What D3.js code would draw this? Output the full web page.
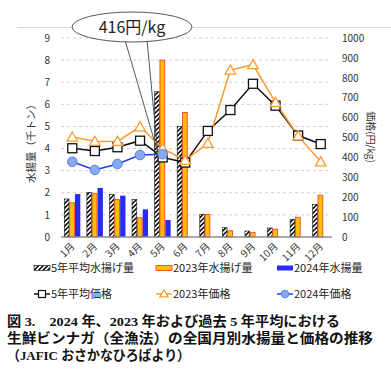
<!DOCTYPE html>
<html><head><meta charset="utf-8">
<script src="https://cdn.jsdelivr.net/npm/d3@7"></script>
<style>
body{margin:0;background:#fff;}
svg{display:block;}
text{font-family:"Noto Sans CJK JP","Noto Sans",sans-serif;}
</style></head>
<body>
<svg id="c" width="391" height="379"></svg>
<script>
const months = ["1月","2月","3月","4月","5月","6月","7月","8月","9月","10月","11月","12月"];
const catch5yr = [1.72,2.02,1.93,1.70,6.57,5.00,1.03,0.42,0.27,0.41,0.80,1.48];
const catch2023 = [1.55,1.96,1.69,0.87,8.00,5.63,1.02,0.28,0.21,0.35,0.89,1.89];
const catch2024 = [1.94,2.22,1.87,1.25,0.77];
const price5yr = [446,432,451,484,400,374,533,638,770,660,510,467];
const price2023 = [502,481,480,554,445,385,471,839,866,676,508,378];
const price2024 = [378,337,367,412,416];
const leftTicks = [0,1,2,3,4,5,6,7,8,9];
const rightTicks = [0,100,200,300,400,500,600,700,800,900,1000];
const calloutText = "416円/kg";
const captionLines = ["図 3.　2024 年、2023 年および過去 5 年平均における",
  "生鮮ビンナガ（全漁法）の全国月別水揚量と価格の推移",
  "（JAFIC おさかなひろばより）"];

const svg = d3.select("#c");
const defs = svg.append("defs");
const pat = defs.append("pattern").attr("id","hatch").attr("patternUnits","userSpaceOnUse")
  .attr("width",3.2).attr("height",3.2).attr("patternTransform","rotate(45)");
pat.append("rect").attr("width",3.2).attr("height",3.2).attr("fill","#fff");
pat.append("rect").attr("width",1.6).attr("height",3.2).attr("fill","#111");

const x = d3.scaleBand().domain(months).range([61,332]).paddingInner(0.29).paddingOuter(0.145);
const x1 = d3.scaleBand().domain([0,1,2]).range([0,x.bandwidth()]);
const yL = d3.scaleLinear().domain([0,9]).range([237,38]);
const yR = d3.scaleLinear().domain([0,1000]).range([237,38]);
const cx = m => x(m) + x.bandwidth()/2;

// top frame line
svg.append("line").attr("x1",17).attr("x2",391).attr("y1",27.5).attr("y2",27.5).attr("stroke","#d9d9d9");

// gridlines
svg.append("g").selectAll("line").data(leftTicks.filter(d=>d>0)).join("line")
  .attr("x1",61).attr("x2",331).attr("y1",d=>yL(d)).attr("y2",d=>yL(d))
  .attr("stroke","#d0d0d0").attr("stroke-dasharray","3,3");

// left axis
const gl = svg.append("g").attr("transform","translate(61,0)")
  .call(d3.axisLeft(yL).tickValues(leftTicks).tickSize(0).tickPadding(11));
gl.select(".domain").remove();
gl.selectAll("text").attr("font-size",10).attr("fill","#333").attr("font-family","Liberation Sans, Arial, sans-serif");

// right axis
const gr = svg.append("g").attr("transform","translate(342,0)")
  .call(d3.axisRight(yR).tickValues(rightTicks).tickFormat(d3.format("d")).tickSize(0).tickPadding(0));
gr.select(".domain").remove();
gr.selectAll("text").attr("font-size",10).attr("fill","#333").attr("font-family","Liberation Sans, Arial, sans-serif");

// axis titles
svg.append("text").attr("transform","translate(35,141) rotate(-90)").attr("text-anchor","middle")
  .attr("font-size",10.5).attr("fill","#333").text("水揚量（千トン）");
svg.append("text").attr("transform","translate(367,137) rotate(90)").attr("text-anchor","middle")
  .attr("font-size",10).attr("fill","#333").text("価格(円/kg)");

// bars
const bars = svg.append("g");
bars.selectAll(".b0").data(catch5yr).join("rect")
  .attr("x",(d,i)=>x(months[i])+x1(0)).attr("width",x1.bandwidth()-0.6)
  .attr("y",d=>yL(d)).attr("height",d=>yL(0)-yL(d))
  .attr("fill","url(#hatch)").attr("stroke","#111").attr("stroke-width",0.6);
bars.selectAll(".b1").data(catch2023).join("rect")
  .attr("x",(d,i)=>x(months[i])+x1(1)).attr("width",x1.bandwidth()-0.6)
  .attr("y",d=>yL(d)).attr("height",d=>yL(0)-yL(d))
  .attr("fill","#FFC000").attr("stroke","#F04A2A").attr("stroke-width",0.9);
bars.selectAll(".b2").data(catch2024).join("rect")
  .attr("x",(d,i)=>x(months[i])+x1(2)).attr("width",x1.bandwidth())
  .attr("y",d=>yL(d)).attr("height",d=>yL(0)-yL(d))
  .attr("fill","#2A2AF5");

// baseline
svg.append("line").attr("x1",61).attr("x2",332).attr("y1",237).attr("y2",237).attr("stroke","#8c8c8c").attr("stroke-width",1.5);

// month labels
svg.append("g").selectAll("text").data(months).join("text")
  .attr("transform",d=>`translate(${cx(d)+3},247) rotate(-45)`)
  .attr("text-anchor","end").attr("font-size",10).attr("fill","#333").text(d=>d);

// lines
const line = d3.line().x((d,i)=>cx(months[i])).y(d=>yR(d));
svg.append("path").datum(price5yr).attr("d",line).attr("fill","none").attr("stroke","#111").attr("stroke-width",1.5);
svg.append("path").datum(price2023).attr("d",line).attr("fill","none").attr("stroke","#FF9A33").attr("stroke-width",1.5);
svg.append("path").datum(price2024).attr("d",line).attr("fill","none").attr("stroke","#1E3CF0").attr("stroke-width",1.5);

svg.append("g").selectAll("rect").data(price5yr).join("rect")
  .attr("x",(d,i)=>cx(months[i])-4.5).attr("y",d=>yR(d)-4.5).attr("width",9).attr("height",9)
  .attr("fill","#fff").attr("stroke","#111").attr("stroke-width",1.3);
const tri = d3.symbol().type(d3.symbolTriangle).size(48);
svg.append("g").selectAll("path").data(price2023).join("path")
  .attr("d",tri).attr("transform",(d,i)=>`translate(${cx(months[i])},${yR(d)+1})`)
  .attr("fill","#fff").attr("stroke","#FF9A33").attr("stroke-width",1.3);
svg.append("g").selectAll("circle").data(price2024).join("circle")
  .attr("cx",(d,i)=>cx(months[i])).attr("cy",d=>yR(d)).attr("r",4.8)
  .attr("fill","#86A9F0").attr("stroke","#5B80E6").attr("stroke-width",1);

// callout
const tip = [cx(months[4])-5, yR(price2024[4])-2];
svg.append("path").attr("d",`M125,40 L${tip[0]},${tip[1]} L147,40`).attr("fill","none").attr("stroke","#444").attr("stroke-width",0.9);
svg.append("ellipse").attr("cx",132).attr("cy",27).attr("rx",60).attr("ry",15)
  .attr("fill","#fff").attr("stroke","#444").attr("stroke-width",0.9);
svg.append("text").attr("x",132).attr("y",33).attr("text-anchor","middle").attr("font-size",16).attr("fill","#222").text(calloutText);

// legend
const lg = svg.append("g").attr("font-size",11).attr("fill","#222");
const row1 = 268, row2 = 294;
const lx = [34,156,277];
lg.append("rect").attr("x",lx[0]).attr("y",row1-2.5).attr("width",16).attr("height",5).attr("fill","url(#hatch)").attr("stroke","#111").attr("stroke-width",0.6);
lg.append("rect").attr("x",lx[1]).attr("y",row1-2.5).attr("width",16).attr("height",5).attr("fill","#FFC000").attr("stroke","#F04A2A").attr("stroke-width",0.9);
lg.append("rect").attr("x",lx[2]).attr("y",row1-2.5).attr("width",16).attr("height",5).attr("fill","#2A2AF5");
const l1 = ["5年平均水揚げ量","2023年水揚げ量","2024年水揚量"];
const l2 = ["5年平均価格","2023年価格","2024年価格"];
l1.forEach((t,i)=>lg.append("text").attr("x",lx[i]+17).attr("y",row1+4).text(t));
l2.forEach((t,i)=>lg.append("text").attr("x",lx[i]+17).attr("y",row2+4).text(t));
lg.append("line").attr("x1",lx[0]).attr("x2",lx[0]+16).attr("y1",row2).attr("y2",row2).attr("stroke","#111").attr("stroke-width",1.5);
lg.append("rect").attr("x",lx[0]+4.5).attr("y",row2-3.5).attr("width",7).attr("height",7).attr("fill","#fff").attr("stroke","#111").attr("stroke-width",1.2);
lg.append("line").attr("x1",lx[1]).attr("x2",lx[1]+16).attr("y1",row2).attr("y2",row2).attr("stroke","#FF9A33").attr("stroke-width",1.5);
lg.append("path").attr("d",d3.symbol().type(d3.symbolTriangle).size(30)).attr("transform",`translate(${lx[1]+8},${row2+0.5})`).attr("fill","#fff").attr("stroke","#FF9A33").attr("stroke-width",1.2);
lg.append("line").attr("x1",lx[2]).attr("x2",lx[2]+16).attr("y1",row2).attr("y2",row2).attr("stroke","#1E3CF0").attr("stroke-width",1.5);
lg.append("circle").attr("cx",lx[2]+8).attr("cy",row2).attr("r",3.8).attr("fill","#86A9F0").attr("stroke","#5B80E6");

// caption (one paragraph, three wrapped lines)
const capLen = [333,366,183];
const cap = svg.append("text").attr("font-weight","bold").attr("fill","#111").attr("font-size",13.5)
  .style("font-family","'Liberation Serif','Noto Sans CJK JP',serif");
captionLines.forEach((t,i)=>cap.append("tspan").attr("x",7).attr("y",326+i*17)
  .attr("textLength",capLen[i]).attr("lengthAdjust","spacingAndGlyphs").text(t));
</script>
</body></html>
